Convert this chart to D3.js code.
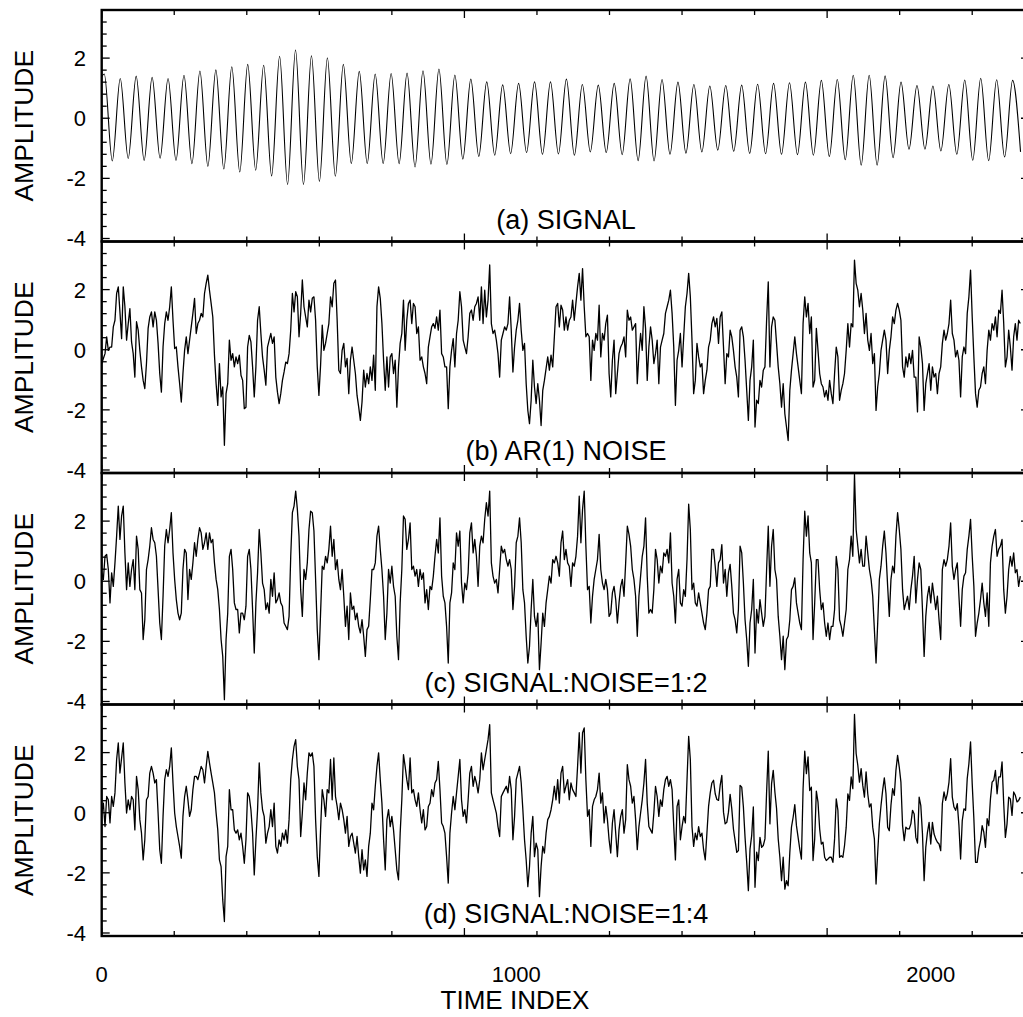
<!DOCTYPE html>
<html>
<head>
<meta charset="utf-8">
<script src="https://cdn.jsdelivr.net/npm/d3@7"></script>
<style>
  body { margin: 0; background: #fff; }
  text { font-family: "Liberation Sans", Arial, sans-serif; fill: #000; }
</style>
</head>
<body>
<svg id="chart" width="1023" height="1017"></svg>
<script>
var step = 4;

var signalStart = 1.38;
var firstPeakAt = 6.3;
var halfPeriod = 19.22;
var signalPeaks = [1.47,1.32,1.40,1.36,1.32,1.43,1.57,1.61,1.71,1.79,1.76,2.06,2.27,2.08,2.01,1.79,1.56,1.47,1.49,1.50,
  1.58,1.64,1.44,1.30,1.21,1.11,1.16,1.21,1.21,
  1.30,1.12,1.10,1.16,1.31,1.40,1.29,1.20,1.12,1.07,1.09,1.10,1.13,1.16,1.18,1.20,1.26,1.29,1.43,1.43,
  1.41,1.20,1.09,1.07,1.12,1.27,1.33,1.28,1.26];
var signalTroughs = [-1.42,-1.34,-1.40,-1.33,-1.40,-1.51,-1.60,-1.69,-1.79,-1.73,-1.92,-2.20,-2.20,-2.10,-1.93,-1.51,-1.51,-1.51,-1.51,-1.62,
  -1.53,-1.54,-1.36,-1.27,-1.23,-1.18,-1.14,-1.20,-1.19,
  -1.23,-1.12,-1.14,-1.21,-1.41,-1.42,-1.20,-1.16,-1.12,-1.06,-1.10,-1.17,-1.18,-1.20,-1.21,-1.23,-1.27,-1.38,-1.56,-1.56,
  -1.31,-1.03,-1.03,-1.09,-1.20,-1.40,-1.41,-1.29,-1.12];

var noiseB = [
  -0.46,-0.29,-0.13,0.43,-0.02,0.09,0.09,0.76,0.98,1.87,2.09,1.26,0.37,2.09,1.43,0.32,0.87,1.37,0.26,-0.13,
  -0.91,0.93,0.65,-0.02,-0.57,-1.02,-1.29,-0.46,0.71,1.09,1.26,0.76,1.26,0.98,0.21,-0.79,-1.41,0.09,0.87,1.26,
  0.98,1.43,2.09,0.98,0.04,0.09,-0.57,-1.13,-1.74,-0.79,-0.02,0.43,-0.13,0.32,0.76,1.21,1.71,0.54,0.87,0.98,
  1.21,1.09,1.87,2.21,2.48,1.98,1.54,1.09,-0.18,-1.13,-1.85,-0.46,-1.57,-1.24,-3.18,-1.46,-1.13,0.32,-0.35,-0.13,
  -0.57,-0.24,-0.46,-0.18,-0.85,-1.02,-1.96,-1.91,0.09,0.48,0.26,-0.57,-1.57,-0.57,0.98,1.43,0.54,-0.24,-0.68,-1.18,
  0.09,0.32,0.54,0.21,0.43,-0.91,-1.41,-1.79,-1.46,-1.02,-0.74,-0.41,-0.46,-0.13,0.65,1.87,1.26,1.93,1.76,0.43,
  1.21,2.32,1.43,1.09,0.76,1.65,1.26,1.71,1.76,0.98,-0.57,-1.52,-0.52,0.82,-0.02,0.21,0.54,0.87,1.76,1.43,
  2.21,2.32,0.98,-0.68,-0.79,-0.02,0.21,-0.57,-0.29,-1.46,-0.35,0.09,-0.35,-0.79,-1.52,-1.91,-2.35,-1.74,-0.68,-1.24,
  -0.79,-1.13,-0.57,-1.02,-0.18,-1.35,1.43,2.09,1.71,0.87,-0.35,-1.35,-0.24,-1.24,-0.24,-0.13,-0.79,-0.35,-1.91,-0.57,
  0.21,0.54,1.65,-0.02,0.98,
  1.54,1.65,0.87,1.54,1.43,0.54,0.76,-0.35,-0.24,-0.57,-0.79,-1.13,0.09,0.43,0.76,0.87,0.71,1.09,0.65,1.32,
  -0.13,-0.24,-0.57,-0.57,-1.96,-0.57,-0.02,0.37,-0.57,0.54,0.98,1.93,1.43,0.32,0.09,-0.13,0.43,1.21,1.32,0.98,
  1.43,1.54,1.76,0.98,2.09,0.87,1.98,1.09,1.65,2.82,0.87,0.54,0.65,0.32,-0.13,-0.91,0.32,0.54,0.76,0.65,
  0.87,1.76,0.65,-0.74,0.09,0.65,0.98,1.54,0.65,-0.02,0.21,-1.13,-2.02,-2.46,-1.68,-0.35,-1.24,-1.79,-1.13,-1.68,
  -2.52,-1.35,-1.02,-0.63,-0.24,-0.68,-0.18,-0.57,0.43,1.43,1.54,0.76,1.48,1.32,0.65,1.09,0.65,0.98,1.09,1.65,
  0.98,1.54,2.09,2.54,1.65,2.7,1.43,0.43,0.54,0.43,-1.02,0.32,-0.02,0.54,0.32,1.48,-0.24,0.54,0.32,0.87,
  1.15,-0.79,-1.57,-0.35,0.32,-1.46,-0.79,-0.13,0.09,0.21,0.43,-0.24,1.32,0.98,1.09,0.65,0.76,0.87,-1.13,-0.13,
  0.54,-0.02,1.43,0.71,-1.02,0.09,0.76,0.32,-0.46,-0.13,0.32,-1.13,0.09,0.32,0.54,1.21,1.43,1.65,1.98,1.21,
  0.09,-1.85,-0.35,-0.02,0.54,-0.57,0.43,1.43,1.87,2.54,1.76,0.32,-1.46,-1.02,0.21,-0.24,-0.57,-0.46,-1.46,-1.02,
  -0.68,0.09,0.32,0.87,
  1.09,0.76,1.04,0.21,1.09,1.26,0.09,-1.13,-0.13,-0.24,0.65,0.43,-0.02,-0.57,-0.91,-1.57,0.65,0.76,0.43,-0.35,
  -1.35,-2.35,-1.02,-0.57,0.32,-2.57,-1.68,-1.79,-1.02,-1.24,-0.68,-0.57,0.98,2.26,-0.57,0.76,1.09,0.98,0.21,-0.57,
  -1.13,-1.91,-1.13,-2.13,-2.57,-3.02,-1.35,-0.68,-0.13,0.43,-0.13,-0.57,-1.02,-1.46,0.87,1.76,1.09,1.54,0.54,1.09,
  -1.24,-1.02,0.71,-0.02,-0.79,-1.13,-1.24,-1.57,-1.35,-1.68,-1.02,-1.46,-1.79,-0.79,0.09,-0.24,-1.68,-1.35,-1.13,-0.79,
  -0.02,0.87,0.09,0.87,0.76,2.98,2.21,1.98,1.43,1.87,1.32,0.54,1.21,0.32,-0.02,0.54,-0.46,-0.13,-2.02,-1.24,
  -0.79,-0.02,0.32,0.65,0.32,-0.79,-0.02,0.43,1.09,0.87,1.32,1.54,1.32,0.98,-0.57,-0.91,-0.24,-0.57,-0.13,-0.46,
  -0.02,-0.91,-0.91,-2.07,0.43,0.09,-0.46,-2.02,-1.13,-0.79,-0.46,-1.35,-0.57,-0.91,-0.79,-1.46,-0.79,-0.57,0.21,0.65,
  0.32,0.54,0.87,1.65,0.54,0.32,-0.24,-0.02,-0.35,-1.57,-0.24,0.09,-0.13,1.21,1.76,2.65,1.09,-0.24,-1.46,-1.91,
  -1.35,-1.24,-0.79,-0.57,-1.13,-0.02,0.65,0.32,0.87,0.65,1.09,0.43,1.32,1.21,1.98,0.87,-0.57,-0.24,0.65,0.09,
  -0.68,0.43,0.87,0.32,0.98,0.87];

var mixC = [
  0.28,0.06,0.83,0.89,0.39,-0.72,0.28,-0.17,0.61,1.5,2.5,1.39,2.17,2.5,0.94,-0.28,0.61,-0.17,0.39,0.72,
  -0.28,1.5,1.06,-0.28,-0.39,-1.94,-1.28,0.39,0.72,1.17,1.78,1.39,1.28,0.83,-0.28,-1.39,-1.94,-0.5,1.17,1.72,
  1.28,1.72,2.28,0.94,0.06,-0.61,-1.06,-1.28,-1.06,0.39,1.06,0.94,-0.61,0.39,0.06,0.61,1.28,0.83,1.39,1.78,
  1.61,1.06,1.28,1.61,1.06,1.61,1.28,1.39,0.61,0.06,-0.28,-0.94,-1.94,-2.5,-3.94,-1.94,-1.06,0.83,1.06,0.39,
  -0.72,-0.94,-0.94,-1.72,-1.06,-1.06,-1.28,-0.83,0.83,1.06,0.39,-0.94,-2.39,-0.72,0.28,1.72,0.94,-0.06,-0.28,-0.94,
  -0.72,-1.06,0.06,-0.5,0.28,-0.72,-0.61,-0.39,-0.72,-0.83,-1.39,-1.5,-1.61,-1.17,0.83,2.28,2.5,3.0,2.39,1.5,
  -0.28,-1.17,0.39,0.06,0.61,1.72,2.33,2.28,1.67,0.06,-1.61,-2.61,-1.06,0.5,0.39,0.83,0.61,1.06,1.83,0.83,
  1.39,0.39,0.72,0.06,-0.28,0.39,-0.5,-1.5,-0.83,-1.94,-0.39,-0.94,-0.83,-1.28,-1.06,-1.5,-1.72,-1.28,-1.83,-2.5,
  -1.61,-1.5,-0.61,0.39,0.39,0.61,1.5,1.83,1.06,0.39,-0.5,-1.94,-1.06,0.39,-0.06,0.5,-0.17,-0.5,-1.83,-2.61,
  -0.72,0.39,2.17,2.06,1.06,
  1.39,1.94,0.39,0.5,0.17,0.39,-0.17,0.39,0.06,0.28,-0.72,-0.28,-0.94,-0.17,-0.28,0.17,0.83,1.39,0.94,2.11,
  0.17,-0.5,-0.72,-1.5,-2.72,-0.72,-0.39,0.61,0.39,1.61,1.17,1.67,-0.06,-0.72,-0.06,-0.28,0.28,1.61,1.94,0.94,
  1.39,0.83,-0.17,1.17,1.5,1.28,2.06,2.61,2.17,3.0,0.61,0.17,-0.06,0.06,-0.39,0.39,1.17,0.94,1.06,0.72,
  0.5,0.72,0.39,-0.94,-0.17,1.28,1.5,2.11,1.28,-0.28,-0.72,-1.83,-2.72,-2.17,-0.94,0.06,-1.17,-1.5,-1.06,-2.94,
  -2.06,-1.06,-1.5,-0.72,-0.28,0.17,-0.06,0.72,0.61,0.83,0.61,0.17,1.28,1.67,0.72,1.06,0.61,0.5,-0.17,0.61,
  0.5,0.83,1.5,2.83,1.28,2.39,3.0,1.17,-0.28,-0.17,-1.39,-0.5,0.06,0.39,0.72,1.56,0.39,-0.06,-0.28,0.06,
  -0.28,-1.17,-1.06,-0.39,-0.17,-0.61,-1.39,-0.72,-0.17,0.06,-0.5,0.61,1.83,1.56,1.17,0.39,0.06,-0.5,-1.83,-0.5,
  0.17,0.83,1.17,2.11,0.17,-1.06,-0.94,-1.06,-0.28,1.06,0.72,-0.06,0.5,0.28,0.94,0.83,1.06,0.61,1.61,-0.06,
  -0.5,-1.39,0.06,0.39,-0.72,-0.83,-0.28,-0.5,0.72,2.56,1.72,-0.28,-0.06,-0.72,-0.83,-0.39,-0.72,-1.06,-1.39,-1.61,
  -1.06,-0.28,-0.17,1.06,
  1.06,0.5,-0.17,0.61,0.72,1.22,-0.06,0.39,-0.5,0.28,0.56,-0.17,-1.06,-1.28,-1.72,-0.94,1.17,0.94,-0.06,-1.28,
  -1.94,-2.83,-1.39,-0.94,0.06,-2.39,-0.94,-1.39,-0.61,-1.06,-1.5,-1.17,0.39,1.83,-0.17,1.17,1.72,0.39,0.06,-1.17,
  -1.83,-2.61,-1.83,-2.94,-1.94,-1.83,-1.28,-0.28,-0.17,0.11,-0.72,-1.06,-1.39,-1.61,0.72,2.33,1.5,2.17,0.94,0.61,
  -1.94,-0.72,0.72,0.72,-0.28,-0.94,-0.72,-1.39,-1.83,-1.39,-1.94,-1.5,-1.5,-0.94,0.83,0.39,-1.28,-1.5,-1.83,-1.39,
  -0.94,0.39,0.72,1.5,0.83,3.56,1.72,1.17,0.61,1.06,0.5,0.5,1.5,0.94,0.39,0.06,-0.5,-1.61,-2.72,-1.39,
  0.06,0.5,1.17,1.67,0.94,-0.17,-1.17,0.06,0.5,0.28,1.5,2.28,1.72,1.06,-0.28,-0.94,-0.72,-0.5,-0.94,-0.28,
  0.17,0.83,-0.72,0.06,0.61,0.39,-0.94,-2.5,-1.17,-0.5,-0.17,-0.72,-0.06,-0.5,-0.94,-0.5,-1.28,-1.94,0.39,0.72,
  0.5,0.72,1.17,1.94,0.5,0.06,0.39,0.61,-0.5,-1.5,-0.28,0.17,0.28,1.06,1.5,2.06,0.83,-0.17,-1.83,-1.39,
  -1.06,-0.61,-0.06,-0.72,-1.17,-0.39,-1.5,0.61,1.17,1.5,1.72,0.83,1.06,1.17,1.39,-0.28,-1.06,-0.5,0.39,0.83,
  0.5,0.94,0.28,0.39,-0.17,0.17];

var mixD = [
  -0.01,0.32,-0.46,0.54,0.43,-0.34,0.54,0.21,0.66,1.77,2.32,1.32,1.82,2.32,0.99,-0.01,0.43,0.1,0.54,0.43,
  -0.57,1.21,0.77,-0.23,-0.68,-1.57,-0.9,0.43,0.54,1.32,1.54,1.32,0.99,1.1,-0.01,-1.23,-1.68,-0.12,1.1,1.43,
  1.21,1.54,2.16,0.99,-0.01,-0.46,-0.79,-1.12,-1.51,-0.12,0.54,0.88,0.43,-0.12,0.1,0.77,1.21,1.21,1.1,1.32,
  1.54,1.43,0.99,1.54,2.04,1.66,1.32,0.99,0.66,-0.01,-0.57,-1.57,-1.79,-2.9,-3.62,-1.46,-1.12,0.77,0.1,0.1,
  -0.57,-0.68,-0.57,-0.9,-0.68,-1.12,-1.68,-0.9,0.66,0.54,0.1,-0.68,-2.07,-0.9,0.1,1.66,0.66,0.1,-0.12,-1.01,
  -0.68,-0.46,0.1,-0.46,0.32,-1.12,-1.34,-0.9,-1.12,-0.68,-0.9,-0.57,-1.01,-0.23,1.1,1.77,2.21,2.43,1.54,1.1,
  -0.79,-0.01,0.99,0.43,1.32,1.99,1.88,1.99,1.54,-0.23,-1.46,-2.12,-0.57,0.77,0.43,-0.12,0.77,0.66,1.77,0.43,
  1.82,0.54,0.21,-0.23,0.32,0.1,-0.23,-0.68,-0.12,-1.12,-0.79,-0.68,-1.01,-1.34,-0.79,-1.46,-2.01,-1.23,-1.9,-1.57,
  -2.12,-1.12,-0.68,0.32,0.1,0.88,1.54,1.99,1.1,0.32,-0.9,-1.9,-0.23,0.1,-0.46,-0.12,-0.57,-1.23,-1.9,-2.23,
  -0.68,0.43,1.93,1.54,1.1,
  0.77,1.82,0.66,0.77,0.43,0.21,0.66,0.1,-0.34,0.1,-0.57,-0.46,0.21,0.32,0.77,0.54,0.99,1.1,1.71,0.77,
  -0.34,-0.46,-0.68,-1.46,-2.34,-0.68,-0.01,0.54,0.1,0.66,1.21,1.77,0.43,-0.12,0.1,-0.34,0.43,1.32,1.54,0.88,
  1.21,0.99,0.66,1.1,1.99,1.43,1.77,2.1,2.43,2.93,0.66,0.43,0.21,-0.01,-0.46,-0.79,0.54,0.66,0.77,0.88,
  0.66,1.21,0.77,-0.9,-0.12,1.1,1.32,1.54,0.99,0.1,-0.9,-1.57,-2.46,-1.79,-0.68,-0.12,-1.46,-1.01,-1.23,-2.79,
  -1.79,-1.12,-1.34,-0.68,-0.23,-0.12,0.1,0.43,0.88,0.43,1.1,0.32,1.32,1.54,0.66,0.88,1.1,0.43,0.99,0.77,
  0.66,0.54,1.54,2.66,1.32,2.66,2.82,1.1,-0.12,0.1,-1.12,0.21,0.43,0.54,0.77,1.32,0.32,0.66,-0.34,0.21,
  -0.23,-0.9,-1.34,-0.34,0.1,-0.68,-1.46,-0.57,-0.12,0.1,-0.68,-0.23,1.6,1.1,0.88,0.32,0.54,-0.23,-1.23,-0.46,
  -0.01,0.43,0.99,1.77,0.32,-0.46,-0.57,-0.68,-0.01,0.88,0.54,-0.12,0.43,0.21,0.77,1.1,1.21,0.88,1.1,0.77,
  -0.46,-1.57,0.21,0.43,-0.9,-0.46,-0.12,-0.34,1.1,2.54,1.77,-0.46,-1.12,-0.68,-0.9,-0.46,-0.79,-0.68,-1.23,-1.57,
  -0.68,0.21,0.66,0.99,
  1.08,0.63,0.44,0.41,0.91,1.24,0.02,-0.37,-0.32,0.02,0.61,0.13,-0.54,-0.93,-1.32,-1.26,0.91,0.85,0.19,-0.82,
  -1.65,-2.59,-1.21,-0.76,0.19,-2.48,-1.31,-1.59,-0.82,-1.15,-1.09,-0.87,0.69,2.05,-0.37,0.97,1.41,0.69,0.14,-0.87,
  -1.48,-2.26,-1.48,-2.54,-2.26,-2.43,-1.32,-0.48,-0.15,0.27,-0.43,-0.82,-1.21,-1.54,0.8,2.05,1.3,1.86,0.74,0.85,
  -1.59,-0.87,0.72,0.35,-0.54,-1.04,-0.98,-1.48,-1.59,-1.54,-1.48,-1.48,-1.65,-0.87,0.46,0.08,-1.48,-1.43,-1.48,-1.09,
  -0.48,0.63,0.41,1.19,0.8,3.27,1.97,1.58,1.02,1.47,0.91,0.52,1.36,0.63,0.19,0.3,-0.48,-0.87,-2.37,-1.32,
  -0.37,0.24,0.75,1.16,0.63,-0.48,-0.6,0.25,0.8,0.58,1.41,1.91,1.52,1.02,-0.43,-0.93,-0.48,-0.54,-0.54,-0.37,
  0.08,-0.04,-0.82,-1.01,0.52,0.24,-0.7,-2.26,-1.15,-0.65,-0.32,-1.04,-0.32,-0.71,-0.87,-0.98,-1.04,-1.26,0.3,0.69,
  0.41,0.63,1.02,1.8,0.52,0.19,0.08,0.3,-0.43,-1.54,-0.26,0.13,0.08,1.14,1.63,2.36,0.96,-0.2,-1.65,-1.65,
  -1.2,-0.93,-0.43,-0.65,-1.15,-0.2,-0.43,0.46,1.02,1.08,1.41,0.63,1.19,1.19,1.69,0.3,-0.82,-0.37,0.52,0.46,
  -0.09,0.69,0.58,0.36,0.41,0.52];

var panelLabels = ["(a) SIGNAL", "(b) AR(1) NOISE", "(c) SIGNAL:NOISE=1:2", "(d) SIGNAL:NOISE=1:4"];
var yTickLabels = [-4, -2, 0, 2];
var xTickLabels = [0, 1000, 2000];
var xMax = 2237;
var yMin = -4.1, yMax = 3.6;

var dimensions = {
  width: 1023,
  height: 1017,
  panelHeight: 231.5,
  margin: { left: 101.7, right: -6, top: 10, bottom: 81 }
};

// build the signal from its read extrema
var signal = [{ t: 0, v: signalStart }];
signalPeaks.forEach(function(p, i) {
  signal.push({ t: firstPeakAt + 2 * i * halfPeriod, v: p });
  if (i < signalTroughs.length) signal.push({ t: firstPeakAt + (2 * i + 1) * halfPeriod, v: signalTroughs[i] });
});

function sampled(arr) {
  return arr.map(function(v, i) { return { t: i * step, v: v }; });
}

var panels = [
  { data: signal, curve: d3.curveMonotoneX, width: 1.1 },
  { data: sampled(noiseB), curve: d3.curveLinear, width: 1.3 },
  { data: sampled(mixC), curve: d3.curveLinear, width: 1.3 },
  { data: sampled(mixD), curve: d3.curveLinear, width: 1.3 }
];

var svg = d3.select("#chart");

var xScale = d3.scaleLinear()
  .domain([0, xMax])
  .range([dimensions.margin.left, dimensions.width - dimensions.margin.right]);

var xMinor = d3.range(0, xMax, 175);
var yMinor = d3.range(-4, 3.3, 0.4).map(function(d) { return Math.round(d * 10) / 10; });

panels.forEach(function(p, k) {
  var top = dimensions.margin.top + k * dimensions.panelHeight;
  var bottom = top + dimensions.panelHeight;

  var yScale = d3.scaleLinear()
    .domain([yMin, yMax])
    .range([bottom, top]);

  var g = svg.append("g");

  var clipId = "clip" + k;
  g.append("clipPath").attr("id", clipId)
    .append("rect")
    .attr("x", xScale(0)).attr("y", top)
    .attr("width", xScale(xMax) - xScale(0)).attr("height", dimensions.panelHeight);

  var line = d3.line()
    .x(d => xScale(d.t))
    .y(d => yScale(d.v))
    .curve(p.curve);

  g.append("path")
    .datum(p.data)
    .attr("clip-path", "url(#" + clipId + ")")
    .attr("d", line)
    .attr("fill", "none")
    .attr("stroke", "#000")
    .attr("stroke-width", p.width)
    .attr("stroke-linejoin", "round");

  // y ticks, left and right, pointing inward
  yMinor.forEach(function(v) {
    var len = (v % 2 === 0) ? 8 : 5;
    g.append("line")
      .attr("x1", xScale(0)).attr("x2", xScale(0) + len)
      .attr("y1", yScale(v)).attr("y2", yScale(v))
      .attr("stroke", "#000").attr("stroke-width", 1.3);
    g.append("line")
      .attr("x1", xScale(xMax)).attr("x2", xScale(xMax) - len)
      .attr("y1", yScale(v)).attr("y2", yScale(v))
      .attr("stroke", "#000").attr("stroke-width", 1.3);
  });

  // x ticks on top and bottom edges
  xMinor.forEach(function(t, i) {
    var len = (i % 5 === 0) ? 8 : 5;
    g.append("line")
      .attr("x1", xScale(t)).attr("x2", xScale(t))
      .attr("y1", top).attr("y2", top + len)
      .attr("stroke", "#000").attr("stroke-width", 1.3);
    g.append("line")
      .attr("x1", xScale(t)).attr("x2", xScale(t))
      .attr("y1", bottom).attr("y2", bottom - len)
      .attr("stroke", "#000").attr("stroke-width", 1.3);
  });

  g.append("rect")
    .attr("x", xScale(0)).attr("y", top)
    .attr("width", xScale(xMax) - xScale(0)).attr("height", dimensions.panelHeight)
    .attr("fill", "none")
    .attr("stroke", "#000")
    .attr("stroke-width", 2.4);

  g.selectAll(".ylab")
    .data(yTickLabels)
    .enter()
    .append("text")
    .attr("x", 86)
    .attr("y", d => yScale(d) + 8)
    .attr("text-anchor", "end")
    .style("font-size", "22px")
    .text(d => d);

  g.append("text")
    .attr("transform", "translate(33," + ((top + bottom) / 2) + ")rotate(-90)")
    .attr("text-anchor", "middle")
    .style("font-size", "26.5px")
    .text("AMPLITUDE");

  g.append("text")
    .attr("x", 566)
    .attr("y", bottom - 13)
    .attr("text-anchor", "middle")
    .style("font-size", "27px")
    .text(panelLabels[k]);
});

svg.selectAll(".xlab")
  .data(xTickLabels)
  .enter()
  .append("text")
  .attr("x", d => xScale(d))
  .attr("y", 982)
  .attr("text-anchor", "middle")
  .style("font-size", "22px")
  .text(d => d);

svg.append("text")
  .attr("x", 515)
  .attr("y", 1009)
  .attr("text-anchor", "middle")
  .style("font-size", "26px")
  .text("TIME INDEX");
</script>
</body>
</html>
